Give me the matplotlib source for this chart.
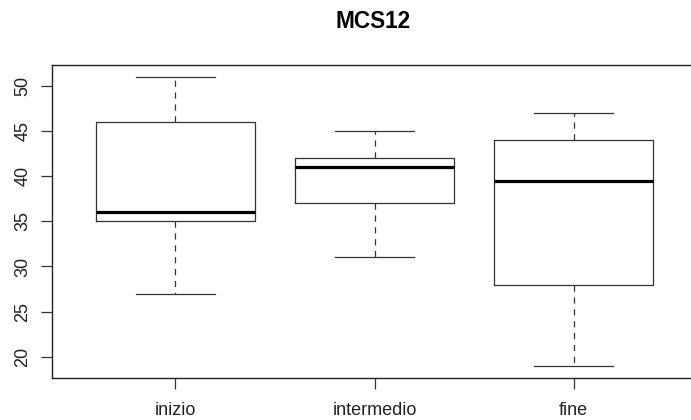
import matplotlib.pyplot as plt

plt.rcParams['font.family'] = ['Liberation Sans', 'DejaVu Sans']

groups = ['inizio', 'intermedio', 'fine']
whisker_low = [27, 31, 19]
q1 = [35, 37, 28]
median = [36, 41, 39.5]
q3 = [46, 42, 44]
whisker_high = [51, 45, 47]

stats = []
for i in range(len(groups)):
    stats.append(dict(label=groups[i], whislo=whisker_low[i], q1=q1[i], med=median[i],
                      q3=q3[i], whishi=whisker_high[i], fliers=[]))

fig = plt.figure(figsize=(6.91, 4.20), dpi=100)
ax = fig.add_axes([52 / 691, 1 - 378 / 420, (697 - 52) / 691, (378 - 65) / 420])

ax.bxp(stats, positions=[1, 2, 3], widths=0.8, showfliers=False,
       boxprops=dict(color='#333333', linewidth=0.9),
       medianprops=dict(color='black', linewidth=2.3, solid_capstyle='butt'),
       whiskerprops=dict(color='#333333', linewidth=0.9, linestyle=(0, (5, 4.5))),
       capprops=dict(color='#333333', linewidth=0.9), capwidths=0.4)

ax.set_xlim(0.38, 3.62)
ax.set_ylim(17.64, 52.33)
ax.set_yticks([20, 25, 30, 35, 40, 45, 50])
ax.set_xticks([1, 2, 3])
ax.set_xticklabels(groups, fontsize=13)
for lab in ax.get_yticklabels():
    lab.set_rotation(90)
    lab.set_verticalalignment('center')
ax.tick_params(axis='y', labelsize=13, length=8, width=0.9, pad=7, colors='#333333', labelcolor='#222222')
ax.tick_params(axis='x', labelsize=13, length=8, width=0.9, pad=9, colors='#333333', labelcolor='#222222')
for s in ax.spines.values():
    s.set_linewidth(1.0)
    s.set_color('#222222')
# the right edge of the frame falls outside the picture
ax.spines['right'].set_visible(False)

fig.text(373.5 / 691, 1 - 22 / 420, 'MCS12', ha='center', va='center', fontsize=16.3, fontweight='bold')

fig.savefig('out.png', dpi=100)
